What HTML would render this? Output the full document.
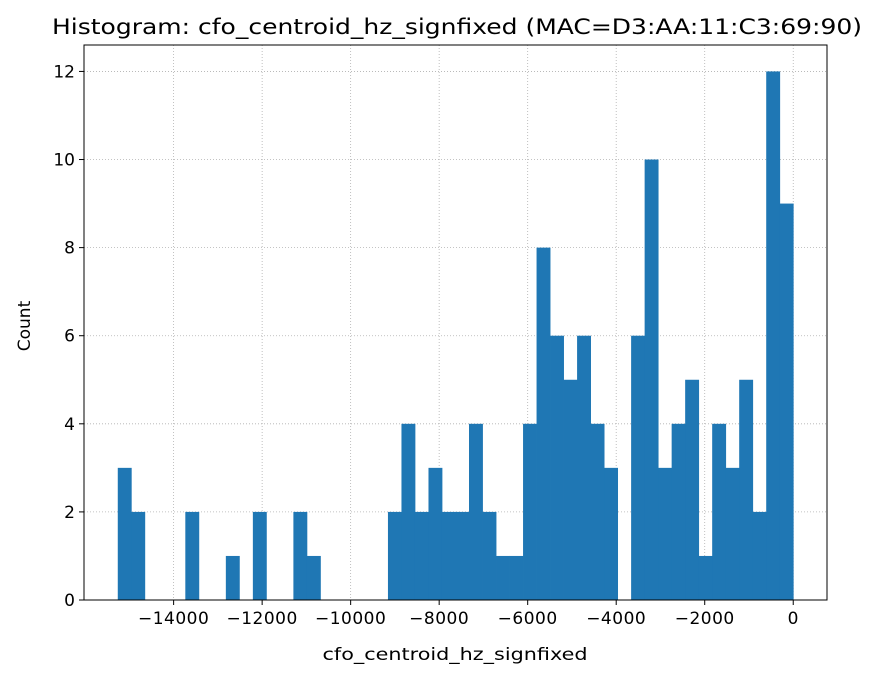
<!DOCTYPE html>
<html><head><meta charset="utf-8"><style>
body{margin:0;background:#fff;}
svg text{font-family:"DejaVu Sans","Liberation Sans",sans-serif;fill:#000;}
</style></head><body>
<svg id="chart" width="876" height="679" xmlns="http://www.w3.org/2000/svg">
<rect width="876" height="679" fill="#fff"/>
<g id="grid"></g>
<g id="bars"></g>
<g id="axes"></g>
<text x="457" y="34" text-anchor="middle" font-size="21" textLength="810" lengthAdjust="spacingAndGlyphs">Histogram: cfo_centroid_hz_signfixed (MAC=D3:AA:11:C3:69:90)</text>
<text x="455" y="660" text-anchor="middle" font-size="17" textLength="265" lengthAdjust="spacingAndGlyphs">cfo_centroid_hz_signfixed</text>
<text transform="translate(30,326) rotate(-90)" text-anchor="middle" font-size="17">Count</text>
</svg>
<script>
const counts=[3,2,0,0,0,2,0,0,1,0,2,0,0,2,1,0,0,0,0,0,2,4,2,3,2,2,4,2,1,1,4,8,6,5,6,4,3,0,6,10,3,4,5,1,4,3,5,2,12,9];
const binMin=-15262;
const binMax=0;
const xTicks=[-14000,-12000,-10000,-8000,-6000,-4000,-2000,0];
const yTicks=[0,2,4,6,8,10,12];
const L=84,R=827,T=45,B=600;
const xMin=-16025,xMax=763,yMax=12.6;
const X=v=>L+(v-xMin)/(xMax-xMin)*(R-L);
const Y=v=>B-v/yMax*(B-T);
const NS="http://www.w3.org/2000/svg";
function mk(tag,attrs,parent){const e=document.createElementNS(NS,tag);for(const k in attrs)e.setAttribute(k,attrs[k]);parent.appendChild(e);return e;}
const grid=document.getElementById('grid'),bars=document.getElementById('bars'),axes=document.getElementById('axes');
xTicks.forEach(t=>{
  const g=mk('line',{x1:X(t),x2:X(t),y1:T,y2:B,stroke:'#b0b0b0','stroke-width':0.8,'stroke-dasharray':'1,2'},grid);
  
  
  const tk=mk('line',{x1:X(t),x2:X(t),y1:B,y2:B+5,stroke:'#000','stroke-width':1},axes);
  
  
  const tx=mk('text',{x:X(t),y:B+24,'text-anchor':'middle','font-size':'17','letter-spacing':'0.5'},axes);
  tx.textContent=(t<0?'\u2212'+Math.abs(t):String(t));
  
  
});
yTicks.forEach(t=>{
  const g=mk('line',{x1:L,x2:R,y1:Y(t),y2:Y(t),stroke:'#b0b0b0','stroke-width':0.8,'stroke-dasharray':'1,2'},grid);
  
  
  const tk=mk('line',{x1:L-5,x2:L,y1:Y(t),y2:Y(t),stroke:'#000','stroke-width':1},axes);
  
  
  const tx=mk('text',{x:L-9,y:Y(t)+6,'text-anchor':'end','font-size':'17'},axes);
  tx.textContent=String(t);
  
  
});
const w=(binMax-binMin)/counts.length;
counts.forEach((c,i)=>{
  if(!c)return;
  const x0=X(binMin+i*w),x1=X(binMin+(i+1)*w);
  const r=mk('rect',{x:x0,y:Y(c),width:x1-x0+0.4,height:B-Y(c),fill:'#1f77b4'},bars);
  
  
});
const f=mk('rect',{x:L,y:T,width:R-L,height:B-T,fill:'none',stroke:'#000','stroke-width':1},axes);


</script>
</body></html>
